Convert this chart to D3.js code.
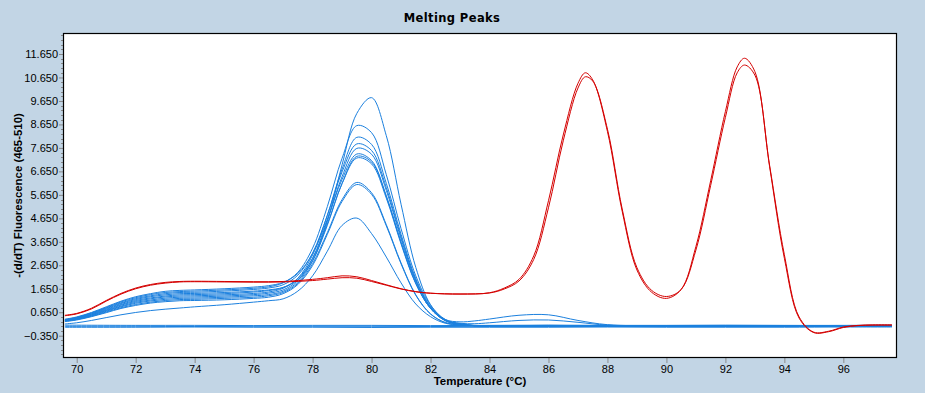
<!DOCTYPE html>
<html>
<head>
<meta charset="utf-8">
<script src="https://cdn.jsdelivr.net/npm/d3@7/dist/d3.min.js"></script>
<style>
    html, body { margin: 0; padding: 0; background: #c2d5e5; }
    svg { display: block; font-family: "Liberation Sans", Arial, sans-serif; }
</style>
</head>
<body>
<div id="chart"></div>
<script>
// temperature grid (°C) for the blue samples
const tempsBlue = [69.6, 70, 70.5, 71, 71.5, 72, 72.5, 73, 73.5, 74, 75, 76, 76.5, 77, 77.5, 78, 78.5, 79, 79.5, 80,
    80.5, 81, 81.5, 82, 82.5, 83, 83.5, 84, 85, 86, 87, 88, 90, 92, 94, 96, 97.65];

// blue samples with a peak near 79.6 °C
const blue1 = [0.32, 0.41, 0.58, 0.80, 1.02, 1.19, 1.31, 1.39, 1.44, 1.45, 1.49, 1.55, 1.60, 1.71, 2.03, 2.85, 4.53, 6.93, 9.12, 9.79,
    8.17, 5.25, 2.56, 0.97, 0.32, 0.18, 0.16, 0.20, 0.30, 0.32, 0.22, 0.10, 0.07, 0.08, 0.07, 0.06, 0.07];
const blue2 = [0.34, 0.43, 0.62, 0.85, 1.09, 1.27, 1.40, 1.49, 1.53, 1.55, 1.60, 1.67, 1.73, 1.90, 2.35, 3.38, 5.15, 7.21, 8.60, 8.30,
    6.51, 4.21, 2.20, 0.95, 0.34, 0.16, 0.09, 0.08, 0.08, 0.09, 0.08, 0.07, 0.06, 0.06, 0.07, 0.06, 0.06];
const blue3 = [0.30, 0.38, 0.54, 0.74, 0.95, 1.11, 1.22, 1.30, 1.34, 1.35, 1.39, 1.45, 1.51, 1.67, 2.10, 3.09, 4.78, 6.75, 8.10, 7.80,
    6.14, 3.97, 2.08, 0.89, 0.34, 0.24, 0.28, 0.36, 0.52, 0.54, 0.30, 0.12, 0.07, 0.07, 0.06, 0.07, 0.06];
const blue4 = [0.33, 0.42, 0.60, 0.83, 1.05, 1.23, 1.35, 1.44, 1.49, 1.50, 1.55, 1.62, 1.68, 1.82, 2.23, 3.17, 4.77, 6.63, 7.82, 7.54,
    5.96, 3.86, 2.02, 0.87, 0.32, 0.14, 0.08, 0.08, 0.07, 0.08, 0.08, 0.06, 0.07, 0.06, 0.06, 0.07, 0.06];
const blue5 = [0.29, 0.36, 0.52, 0.72, 0.91, 1.07, 1.17, 1.25, 1.29, 1.30, 1.34, 1.40, 1.46, 1.60, 2.01, 2.95, 4.56, 6.43, 7.63, 7.38,
    5.84, 3.78, 1.98, 0.85, 0.31, 0.14, 0.08, 0.07, 0.08, 0.07, 0.07, 0.07, 0.06, 0.07, 0.06, 0.06, 0.07];
const blue6 = [0.35, 0.45, 0.64, 0.88, 1.12, 1.31, 1.44, 1.54, 1.58, 1.60, 1.65, 1.72, 1.78, 1.92, 2.30, 3.15, 4.61, 6.31, 7.39, 7.11,
    5.61, 3.63, 1.90, 0.81, 0.29, 0.13, 0.08, 0.07, 0.07, 0.07, 0.06, 0.07, 0.07, 0.06, 0.07, 0.06, 0.06];
const blue7 = [0.28, 0.35, 0.50, 0.69, 0.88, 1.03, 1.13, 1.20, 1.24, 1.25, 1.29, 1.35, 1.40, 1.54, 1.94, 2.83, 4.35, 6.14, 7.29, 7.05,
    5.58, 3.61, 1.89, 0.81, 0.29, 0.13, 0.08, 0.07, 0.07, 0.06, 0.07, 0.06, 0.06, 0.07, 0.06, 0.07, 0.06];
const blue8 = [0.31, 0.39, 0.56, 0.77, 0.98, 1.15, 1.26, 1.34, 1.39, 1.40, 1.44, 1.51, 1.57, 1.70, 2.08, 2.94, 4.41, 6.13, 7.22, 6.97,
    5.51, 3.56, 1.86, 0.81, 0.30, 0.13, 0.08, 0.07, 0.06, 0.07, 0.07, 0.06, 0.06, 0.06, 0.07, 0.06, 0.07];
const blue9 = [0.26, 0.34, 0.48, 0.66, 0.84, 0.98, 1.08, 1.15, 1.19, 1.20, 1.24, 1.29, 1.35, 1.49, 1.88, 2.72, 4.04, 5.45, 6.18, 5.74,
    4.38, 2.75, 1.39, 0.58, 0.21, 0.11, 0.08, 0.07, 0.07, 0.06, 0.07, 0.06, 0.07, 0.06, 0.06, 0.06, 0.06];
const blue10 = [0.25, 0.32, 0.46, 0.63, 0.81, 0.94, 1.04, 1.10, 1.14, 1.15, 1.18, 1.24, 1.29, 1.44, 1.83, 2.64, 3.97, 5.37, 6.09, 5.67,
    4.33, 2.71, 1.37, 0.57, 0.21, 0.11, 0.08, 0.07, 0.06, 0.07, 0.06, 0.07, 0.06, 0.07, 0.06, 0.07, 0.06];
const blue11 = [0.15, 0.20, 0.30, 0.42, 0.54, 0.64, 0.72, 0.78, 0.83, 0.88, 0.97, 1.08, 1.14, 1.22, 1.55, 2.20, 3.25, 4.35, 4.66, 4.00,
    3.00, 1.90, 1.00, 0.46, 0.18, 0.11, 0.08, 0.07, 0.07, 0.07, 0.06, 0.06, 0.07, 0.06, 0.07, 0.06, 0.06];

// flat blue samples (no product)
const tempsFlat = [69.6, 72, 74, 76, 78, 80, 82, 84, 86, 88, 90, 92, 94, 96, 97.65];
const flat1 = [0.05, 0.05, 0.04, 0.05, 0.05, 0.05, 0.04, 0.05, 0.05, 0.04, 0.05, 0.05, 0.05, 0.05, 0.05];
const flat2 = [0.10, 0.09, 0.09, 0.08, 0.09, 0.09, 0.08, 0.09, 0.10, 0.09, 0.09, 0.10, 0.09, 0.09, 0.10];
const flat3 = [0.01, 0.01, 0.02, 0.01, 0.01, 0.00, 0.01, 0.01, 0.01, 0.02, 0.01, 0.01, 0.01, 0.02, 0.02];

// red samples, two peaks at ~87.2 and ~92.6 °C
const tempsRed = [69.6, 70, 70.5, 71, 71.5, 72, 72.5, 73, 73.5, 74, 75, 76, 77, 78, 78.5, 79, 79.5, 80, 80.5, 81,
    81.5, 82, 83, 84, 84.5, 85, 85.5, 86, 86.5, 87, 87.25, 87.5, 88, 88.5, 89, 89.5, 90, 90.5, 91, 91.5,
    92, 92.4, 92.65, 93, 93.5, 94, 94.5, 95, 95.5, 96, 96.5, 97, 97.65];
const red1 = [0.52, 0.60, 0.82, 1.15, 1.45, 1.68, 1.83, 1.92, 1.96, 1.97, 1.96, 1.95, 1.96, 2.05, 2.12, 2.20, 2.16, 2.00, 1.82, 1.65,
    1.53, 1.46, 1.42, 1.48, 1.68, 2.05, 3.05, 5.40, 8.20, 10.40, 10.85, 10.55, 8.35, 4.95, 2.45, 1.50, 1.24, 1.62, 3.45, 6.25,
    9.20, 11.10, 11.47, 10.90, 6.85, 2.95, 0.40, -0.22, -0.18, 0.00, 0.08, 0.10, 0.10];
const red2 = [0.50, 0.58, 0.79, 1.12, 1.42, 1.65, 1.80, 1.89, 1.94, 1.95, 1.94, 1.93, 1.94, 2.00, 2.06, 2.12, 2.10, 1.96, 1.80, 1.64,
    1.52, 1.46, 1.43, 1.47, 1.64, 1.98, 2.90, 5.10, 7.95, 10.20, 10.68, 10.50, 8.45, 5.05, 2.55, 1.58, 1.32, 1.62, 3.30, 6.05,
    8.95, 10.85, 11.18, 10.75, 6.90, 3.10, 0.45, -0.20, -0.16, 0.02, 0.09, 0.11, 0.11];

const yTicks = [-0.35, 0.65, 1.65, 2.65, 3.65, 4.65, 5.65, 6.65, 7.65, 8.65, 9.65, 10.65, 11.65];
const xTicks = [70, 72, 74, 76, 78, 80, 82, 84, 86, 88, 90, 92, 94, 96];

const blueSeries = [flat1, flat2, flat3].map(v => ({ t: tempsFlat, v: v }))
    .concat([blue1, blue2, blue3, blue4, blue5, blue6, blue7, blue8, blue9, blue10, blue11].map(v => ({ t: tempsBlue, v: v })));
const redSeries = [red2, red1].map(v => ({ t: tempsRed, v: v }));

const width = 925, height = 393;
const plot = { left: 63, top: 33, right: 897, bottom: 358 };

const svg = d3.select('#chart').append('svg')
    .attr('width', width)
    .attr('height', height);

const x = d3.scaleLinear().domain([69.535, 97.82]).range([plot.left, plot.right]);
const y = d3.scaleLinear().domain([-1.30, 12.545]).range([plot.bottom, plot.top]);

// plot background
svg.append('rect')
    .attr('x', plot.left).attr('y', plot.top)
    .attr('width', plot.right - plot.left).attr('height', plot.bottom - plot.top)
    .attr('fill', '#ffffff');

svg.append('clipPath').attr('id', 'clip')
    .append('rect')
    .attr('x', plot.left).attr('y', plot.top)
    .attr('width', plot.right - plot.left).attr('height', plot.bottom - plot.top);

const line = d3.line()
    .x(d => x(d[0]))
    .y(d => y(d[1]))
    .curve(d3.curveCatmullRom.alpha(0.5));

const curves = svg.append('g').attr('clip-path', 'url(#clip)');

curves.selectAll('path.blue')
    .data(blueSeries)
    .join('path')
    .attr('class', 'blue')
    .attr('fill', 'none')
    .attr('stroke', '#1b80de')
    .attr('stroke-width', 1)
    .attr('d', s => line(s.t.map((t, i) => [t, s.v[i]])));

curves.selectAll('path.red')
    .data(redSeries)
    .join('path')
    .attr('class', 'red')
    .attr('fill', 'none')
    .attr('stroke', '#d40000')
    .attr('stroke-width', 1)
    .attr('d', s => line(s.t.map((t, i) => [t, s.v[i]])));

// Y axis
const yAxis = svg.append('g')
    .attr('transform', `translate(${plot.left},0)`)
    .call(d3.axisLeft(y).tickValues(yTicks).tickSize(4).tickPadding(1).tickFormat(d3.format('.3f')));
yAxis.select('.domain').remove();
yAxis.selectAll('line').attr('stroke', '#8a8a8a');
yAxis.selectAll('text').attr('fill', '#000').style('font-size', '11px');

// minor ticks every 0.2
const minor = d3.range(-1.15, 12.5, 0.2).filter(v => !yTicks.some(t => Math.abs(t - v) < 0.01));
svg.append('g').selectAll('line')
    .data(minor)
    .join('line')
    .attr('x1', plot.left - 2).attr('x2', plot.left)
    .attr('y1', d => Math.round(y(d)) + 0.5).attr('y2', d => Math.round(y(d)) + 0.5)
    .attr('stroke', '#8a8a8a');

// X axis
const xAxis = svg.append('g')
    .attr('transform', `translate(0,${plot.bottom})`)
    .call(d3.axisBottom(x).tickValues(xTicks).tickSize(5).tickPadding(2).tickFormat(d3.format('d')));
xAxis.select('.domain').remove();
xAxis.selectAll('line').attr('stroke', '#8a8a8a');
xAxis.selectAll('text').attr('fill', '#000').style('font-size', '11px');

// frame
svg.append('rect')
    .attr('x', plot.left + 0.5).attr('y', plot.top + 0.5)
    .attr('width', plot.right - plot.left - 1).attr('height', plot.bottom - plot.top - 1)
    .attr('fill', 'none')
    .attr('stroke', '#000')
    .attr('stroke-width', 1.2);

// titles
svg.append('text')
    .attr('x', 452).attr('y', 22)
    .attr('text-anchor', 'middle')
    .style('font-family', '"DejaVu Sans", Verdana, sans-serif')
    .style('font-weight', 'bold')
    .style('font-size', '11.5px')
    .style('letter-spacing', '0.4px')
    .text('Melting Peaks');

svg.append('text')
    .attr('transform', `translate(22,${(plot.top + plot.bottom) / 2}) rotate(-90)`)
    .attr('text-anchor', 'middle')
    .style('font-weight', 'bold')
    .style('font-size', '11.4px')
    .text('-(d/dT) Fluorescence (465-510)');

svg.append('text')
    .attr('x', (plot.left + plot.right) / 2).attr('y', 385)
    .attr('text-anchor', 'middle')
    .style('font-weight', 'bold')
    .style('font-size', '11.5px')
    .text('Temperature (°C)');
</script>
</body>
</html>
